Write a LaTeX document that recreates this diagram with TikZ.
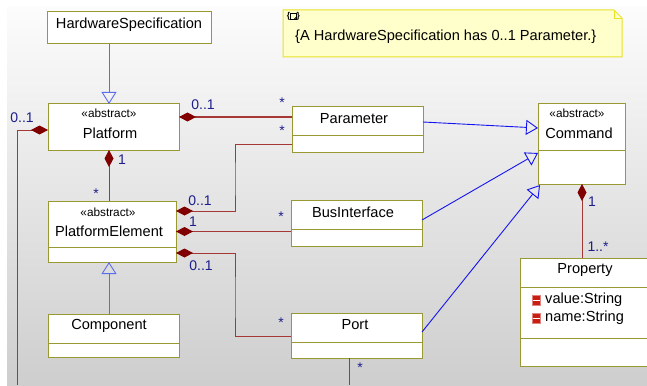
\documentclass[tikz,border=0pt]{standalone}
\usepackage{fontspec}
\setmainfont{Liberation Sans}
\usetikzlibrary{arrows.meta}
\definecolor{classline}{RGB}{153,153,51}
\definecolor{assocred}{RGB}{165,55,55}
\definecolor{diamondred}{RGB}{128,0,0}
\definecolor{genblue}{RGB}{20,20,240}
\definecolor{genlight}{RGB}{90,110,235}
\definecolor{multblue}{RGB}{30,30,140}
\definecolor{notefill}{RGB}{255,255,204}
\definecolor{noteline}{RGB}{232,226,40}
\definecolor{attrred}{RGB}{200,30,20}
\definecolor{bgtop}{RGB}{252,252,252}
\definecolor{bgbottom}{RGB}{206,206,206}

\begin{document}
\begin{tikzpicture}[x=1pt, y=-1pt,
	umlclass/.style={
		draw=classline,
		fill=white,
		rectangle,
		line width=1pt,
		anchor=north west,
		inner sep=0pt,
		outer sep=0pt,
	},
	divider/.style={draw=classline, line width=1pt},
	cname/.style={font=\fontsize{14.6}{15}\selectfont, inner sep=0pt},
	stereo/.style={font=\fontsize{11.8}{12}\selectfont, inner sep=0pt},
	mult/.style={text=multblue, font=\fontsize{14}{14}\selectfont, inner sep=0pt},
	compo/.style={draw=assocred, line width=1pt,
		{Diamond[length=17pt, width=9pt, color=diamondred, fill=diamondred]}-},
	gener/.style={draw=genblue, line width=0.9pt, -{Triangle[open, length=12pt, width=15pt]}},
	]
	\clip (0,0) rectangle (647,385);
	\shade[top color=bgtop, bottom color=bgbottom] (7,7) rectangle (647,385);
	
	% note
	\draw[noteline, fill=notefill, line width=1pt] (283,10) -- (614,10) -- (622,18) -- (622,57) -- (283,57) -- cycle;
	\draw[noteline, line width=0.8pt] (614,10) -- (614,18) -- (622,18);
	\node[font=\fontsize{8.5}{8.5}\selectfont\bfseries, inner sep=0pt] (noteicon) at (293.5,16) {\{\hspace{6.5pt}\}};
	\draw[line width=0.8pt] (290.5,13.5) rectangle (296.5,19.5) (294,19.5) -- (296.5,17);
	\node[cname, anchor=west] (notetext) at (295,37) {\{A HardwareSpecification has 0..1 Parameter.\}};
	
	% classes
	\node[umlclass, minimum width=164, minimum height=32] (hwspec) at (47,12) {};
	\node[umlclass, minimum width=131, minimum height=46] (platform) at (48,104) {};
	\node[umlclass, minimum width=131, minimum height=45] (param) at (292,107) {};
	\node[umlclass, minimum width=87, minimum height=80] (command) at (538,104) {};
	\node[umlclass, minimum width=128, minimum height=61] (pelem) at (48,201) {};
	\node[umlclass, minimum width=131, minimum height=46] (bus) at (291,200) {};
	\node[umlclass, minimum width=131, minimum height=43] (component) at (48,314) {};
	\node[umlclass, minimum width=131, minimum height=45] (port) at (291,313) {};
	\node[umlclass, minimum width=140, minimum height=108] (property) at (520,258) {};
	
	\draw[divider] ([yshift=-28pt]param.north west) -- ([yshift=-28pt]param.north east);
	\draw[divider] ([yshift=-46pt]command.north west) -- ([yshift=-46pt]command.north east);
	\draw[divider] ([yshift=-46pt]pelem.north west) -- ([yshift=-46pt]pelem.north east);
	\draw[divider] ([yshift=-29pt]bus.north west) -- ([yshift=-29pt]bus.north east);
	\draw[divider] ([yshift=-29pt]component.north west) -- ([yshift=-29pt]component.north east);
	\draw[divider] ([yshift=-29pt]port.north west) -- ([yshift=-29pt]port.north east);
	\draw[divider] ([yshift=-29pt]property.north west) -- ([yshift=-29pt]property.north east);
	\draw[divider] ([yshift=-80pt]property.north west) -- ([yshift=-80pt]property.north east);
	
	\node[cname] (hwname) at (129,25) {HardwareSpecification};
	\node[stereo] (platstereo) at (109,113) {«abstract»};
	\node[cname] (platname) at (110,133) {Platform};
	\node[cname] (paramname) at (354,119) {Parameter};
	\node[stereo] (cmdstereo) at (577,113) {«abstract»};
	\node[cname] (cmdname) at (579,133) {Command};
	\node[stereo] (pestereo) at (108,212) {«abstract»};
	\node[cname] (pename) at (109,231) {PlatformElement};
	\node[cname] (busname) at (353,212) {BusInterface};
	\node[cname] (compname) at (109,326) {Component};
	\node[cname] (portname) at (355,325) {Port};
	\node[cname] (propname) at (585,270) {Property};
	
	% attributes of Property
	\foreach \y/\attr in {300/value:String, 318/name:String}{
		\filldraw[fill=attrred, draw=attrred!55, line width=0.6pt] (532,\y-5) rectangle (540,\y+5);
		\draw[white, line width=1pt] (532.5,\y) -- (539.5,\y);
		\node[cname, anchor=west] (attr\y) at (545,\y) {\attr};
	}
	
	% helper points
	\coordinate (spine) at (109,0);
	\coordinate (bendA) at (235,180);
	\coordinate (bendB) at (235,300);
	\coordinate (leftend) at (17,385);
	\coordinate (portend) at (349,385);
	
	% generalizations
	\draw[gener, draw=genlight] (hwspec.south -| spine) -- (platform.north -| spine);
	\draw[gener, draw=genlight] (component.north -| spine) -- (pelem.south -| spine);
	\draw[gener] ([yshift=7.5pt]param.east) -- ([yshift=16pt]command.west);
	\draw[gener] ([yshift=3pt]bus.east) -- ([yshift=-9pt]command.west);
	\draw[gener] ([yshift=3.5pt]port.east) -- ([xshift=2pt, yshift=-1pt]command.south west);
	
	% compositions
	\draw[compo] ([yshift=10pt]platform.east) -- ([yshift=12.5pt]param.west);
	\draw[compo] ([yshift=-3pt]platform.west) -| (leftend);
	\draw[compo] (platform.south -| spine) -- (pelem.north -| spine);
	\draw[compo] ([yshift=20.5pt]pelem.east) -| (bendA) |- ([yshift=-14.5pt]param.west);
	\draw[compo] (pelem.east) -- (pelem.east -| bus.west);
	\draw[compo] ([yshift=-21.5pt]pelem.east) -| (bendB) |- ([yshift=-0.5pt]port.west);
	\draw[compo] ([xshift=0.5pt]command.south) -- ([xshift=-8pt]property.north);
	\draw[draw=assocred, line width=1pt] (port.south -| portend) -- (portend);
	
	% multiplicities
	\node[mult] (mPlatPar) at (203,105) {0..1};
	\node[mult] (mParTop) at (282,103) {*};
	\node[mult] (mParLow) at (282,131) {*};
	\node[mult] (mPlatLeft) at (22,118) {0..1};
	\node[mult] (mPlatDown) at (122,160) {1};
	\node[mult] (mPeUp) at (96,194) {*};
	\node[mult] (mPeTop) at (200,201) {0..1};
	\node[mult] (mPeMid) at (193,222) {1};
	\node[mult] (mBus) at (281,217) {*};
	\node[mult] (mPeLow) at (201,266) {0..1};
	\node[mult] (mPort) at (281,323) {*};
	\node[mult] (mPortDown) at (360,368) {*};
	\node[mult] (mCmd) at (592,202) {1};
	\node[mult] (mProp) at (598,247) {1..*};
\end{tikzpicture}
\end{document}
